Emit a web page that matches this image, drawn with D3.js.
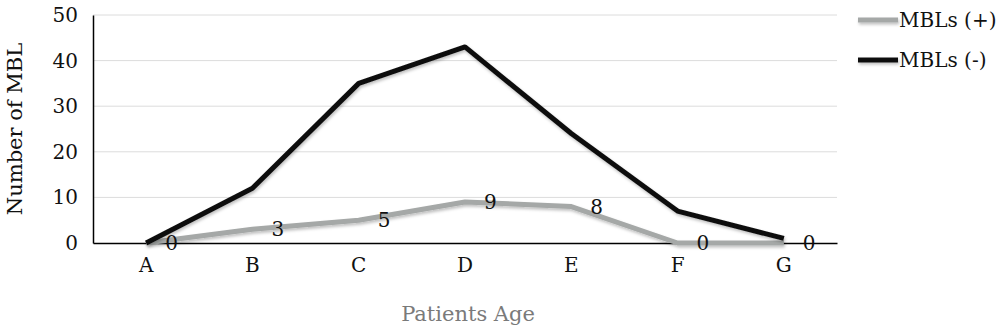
<!DOCTYPE html>
<html><head><meta charset="utf-8">
<script src="https://cdn.jsdelivr.net/npm/d3@7"></script>
<style>body{margin:0;background:#fff}svg{display:block}</style>
</head><body>
<script>
const categories = ["A","B","C","D","E","F","G"];
const mblPos = [0,3,5,9,8,0,0];
const mblNeg = [0,12,35,43,24,7,1];
const yTicks = [0,10,20,30,40,50];
const seriesNames = ["MBLs (+)","MBLs (-)"];

const W=1000,H=329;
const m={l:93,r:163,t:15,b:86};
const svg=d3.select("body").append("svg").attr("width",W).attr("height",H);
const defs=svg.append("defs");
const f=defs.append("filter").attr("id","sh").attr("filterUnits","userSpaceOnUse").attr("x",0).attr("y",0).attr("width",W).attr("height",H);
f.append("feDropShadow").attr("dx",1).attr("dy",2).attr("stdDeviation",1.5).attr("flood-color","#000").attr("flood-opacity",0.25);

const x=d3.scaleBand().domain(categories).range([m.l,W-m.r]);
const y=d3.scaleLinear().domain([0,50]).range([H-m.b,m.t]);
const font="'DejaVu Serif', serif";

// gridlines
svg.append("g").selectAll("line").data(yTicks.filter(d=>d>0)).join("line")
  .attr("x1",m.l).attr("x2",W-m.r).attr("y1",d=>y(d)).attr("y2",d=>y(d))
  .attr("stroke","#dcdcdc").attr("stroke-width",1);

// y axis
const ya=svg.append("g").attr("transform",`translate(${m.l},0)`).call(d3.axisLeft(y).tickValues(yTicks).tickSize(0).tickPadding(15));
ya.select(".domain").attr("stroke","#000").attr("stroke-width",1.5);
ya.selectAll("text").attr("font-family",font).attr("font-size",20).attr("fill","#111");

// x axis
const xa=svg.append("g").attr("transform",`translate(0,${y(0)})`).call(d3.axisBottom(x).tickSize(0).tickPadding(12));
xa.select(".domain").attr("stroke","#000").attr("stroke-width",1.5);
xa.selectAll("text").attr("font-family",font).attr("font-size",20).attr("fill","#111").attr("dy","0.85em");

const line=d3.line().x((d,i)=>x(categories[i])+x.bandwidth()/2).y(d=>y(d));
svg.append("path").datum(mblPos).attr("d",line).attr("fill","none").attr("stroke","#a5a8a7").attr("stroke-width",5).attr("stroke-linejoin","round").attr("filter","url(#sh)");
svg.append("path").datum(mblNeg).attr("d",line).attr("fill","none").attr("stroke","#111").attr("stroke-width",5).attr("stroke-linejoin","round").attr("filter","url(#sh)");

// data labels
svg.append("g").selectAll("text").data(mblPos).join("text")
  .attr("x",(d,i)=>x(categories[i])+x.bandwidth()/2+19).attr("y",d=>y(d)).attr("dy","0.35em")
  .attr("font-family",font).attr("font-size",20).attr("fill","#111").text(d=>d);

// axis titles
svg.append("text").attr("transform",`translate(22,${(m.t+y(0))/2}) rotate(-90)`).attr("text-anchor","middle")
  .attr("font-family",font).attr("font-size",21).attr("fill","#111").text("Number of MBL");
svg.append("text").attr("x",(m.l+W-m.r)/2+3).attr("y",321).attr("text-anchor","middle")
  .attr("font-family",font).attr("font-size",21).attr("fill","#7a7a7a").text("Patients Age");

// legend
const lg=svg.append("g");
[["#a5a8a7",20],["#111",60]].forEach((c,i)=>{
  lg.append("line").attr("x1",858).attr("x2",898).attr("y1",c[1]).attr("y2",c[1]).attr("stroke",c[0]).attr("stroke-width",5).attr("filter","url(#sh)");
  lg.append("text").attr("x",899).attr("y",c[1]).attr("dy","0.35em").attr("font-family",font).attr("font-size",20).attr("fill","#111").text(seriesNames[i]);
});
</script>
</body></html>
